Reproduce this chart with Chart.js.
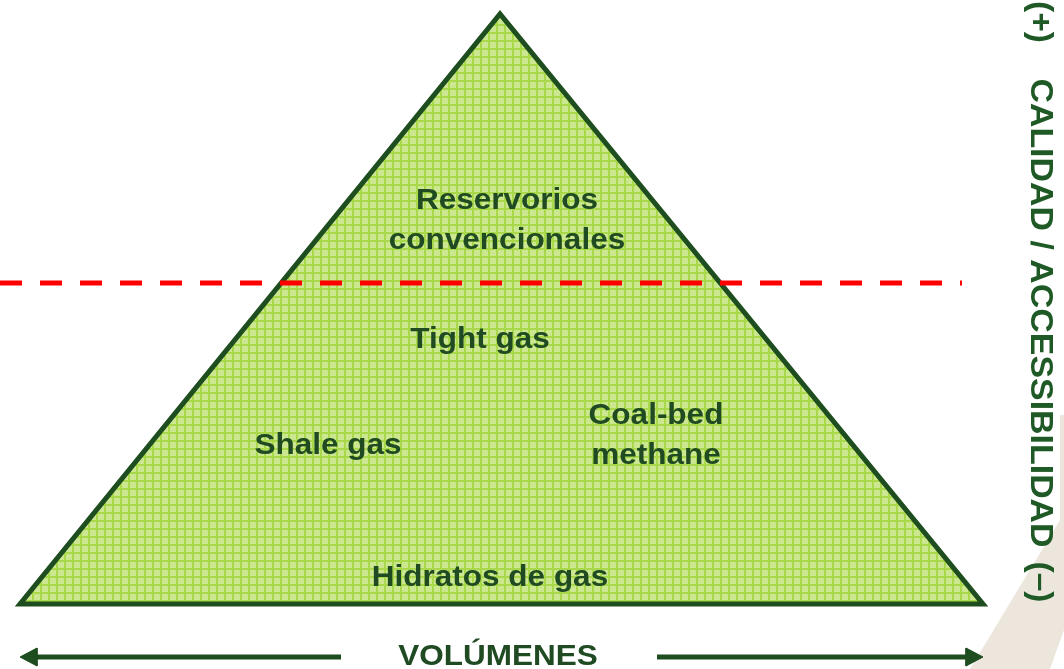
<!DOCTYPE html>
<html>
<head>
<meta charset="utf-8">
<script src="https://cdn.jsdelivr.net/npm/chart.js@4.4.1/dist/chart.umd.min.js"></script>
<style>
  html, body { margin: 0; padding: 0; background: #ffffff; }
  canvas { display: block; }
</style>
</head>
<body>
<canvas id="c" width="1064" height="669"></canvas>
<script>
// pyramid outline (starts mid-base so every corner is a real join)
var pyramidX = [500, 983, 500, 20, 500];
var pyramidY = [604, 604, 14, 604, 604];

// red cut-off line
var cutX = [0, 962];
var cutY = [283, 283];

// beige band in the lower right corner
var bandX = [970, 1060, 1060, 1064, 1064, 1050, 970];
var bandY = [669, 520, 415, 415, 630, 669, 669];

// volume arrows
var arrowLeftX = [30, 341];
var arrowRightX = [657, 970];
var arrowY = [657, 657];
var headLeftX = [20, 37, 37, 20];
var headLeftY = [657, 648, 666, 657];
var headRightX = [983, 966, 966, 983];
var headRightY = [657, 648, 666, 657];

// labels inside the pyramid
var labelText = ['Reservorios', 'convencionales', 'Tight gas', 'Shale gas', 'Coal-bed', 'methane', 'Hidratos de gas'];
var labelX = [507, 507, 480, 328, 656, 656, 490];
var labelY = [201, 241, 340, 446, 416, 456, 578];

var axisTitle = 'VOLÚMENES';
var sideTitle = 'CALIDAD / ACCESSIBILIDAD';
var sideTop = '(+)';
var sideBottom = '(\u2013)';

function pts(xs, ys) {
    var out = [];
    for (var i = 0; i < xs.length; i++) out.push({x: xs[i], y: ys[i]});
    return out;
}

function gridPattern() {
    var p = document.createElement('canvas');
    p.width = 8; p.height = 8;
    var g = p.getContext('2d');
    g.fillStyle = '#cbe78f';
    g.fillRect(0, 0, 8, 8);
    g.fillStyle = '#a9d84b';
    g.fillRect(0, 0, 8, 2);
    g.fillRect(0, 0, 2, 8);
    return document.getElementById('c').getContext('2d').createPattern(p, 'repeat');
}

var darkGreen = '#1e4d1f';
var textGreen = '#1f4a22';

// text is a bit wider than plain Arial bold in the picture
function stretchedText(ctx, txt, x, y, stretch) {
    ctx.save();
    ctx.translate(x, y);
    ctx.scale(stretch, 1);
    ctx.fillText(txt, 0, 0);
    ctx.restore();
}

var textPlugin = {
    id: 'texts',
    afterDatasetsDraw: function(chart) {
        var ctx = chart.ctx;
        var sx = chart.scales.x, sy = chart.scales.y;
        ctx.save();
        ctx.fillStyle = textGreen;
        ctx.textAlign = 'center';
        ctx.textBaseline = 'middle';
        ctx.font = 'bold 30px "Liberation Sans", Arial, sans-serif';
        for (var i = 0; i < labelText.length; i++) {
            stretchedText(ctx, labelText[i], sx.getPixelForValue(labelX[i]), sy.getPixelForValue(labelY[i]), 1.05);
        }
        stretchedText(ctx, axisTitle, sx.getPixelForValue(498), sy.getPixelForValue(657), 1.05);

        // vertical title on the right
        ctx.fillStyle = '#1f5a26';
        ctx.translate(sx.getPixelForValue(1040), 0);
        ctx.rotate(Math.PI / 2);
        ctx.font = 'bold 32px "Liberation Sans", Arial, sans-serif';
        stretchedText(ctx, sideTitle, sy.getPixelForValue(313), 0, 1.06);
        stretchedText(ctx, sideTop, sy.getPixelForValue(22), 0, 1.05);
        stretchedText(ctx, sideBottom, sy.getPixelForValue(582), 0, 1.05);
        ctx.restore();
    }
};

var lineDefaults = {showLine: true, pointRadius: 0, tension: 0, borderJoinStyle: 'miter', borderCapStyle: 'butt'};

function ds(extra) {
    var o = {};
    for (var k in lineDefaults) o[k] = lineDefaults[k];
    for (var k2 in extra) o[k2] = extra[k2];
    return o;
}

var myChart = new Chart(document.getElementById('c'), {
    type: 'scatter',
    data: {
        datasets: [
            ds({data: pts(cutX, cutY), borderColor: '#ff0000', borderWidth: 5, borderDash: [22, 18], fill: false}),
            ds({data: pts(headLeftX, headLeftY), borderColor: darkGreen, borderWidth: 1, backgroundColor: darkGreen, fill: 'shape'}),
            ds({data: pts(headRightX, headRightY), borderColor: darkGreen, borderWidth: 1, backgroundColor: darkGreen, fill: 'shape'}),
            ds({data: pts(arrowLeftX, arrowY), borderColor: darkGreen, borderWidth: 5, fill: false}),
            ds({data: pts(arrowRightX, arrowY), borderColor: darkGreen, borderWidth: 5, fill: false}),
            ds({data: pts(pyramidX, pyramidY), borderColor: darkGreen, borderWidth: 5, backgroundColor: gridPattern(), fill: 'shape'}),
            ds({data: pts(bandX, bandY), borderColor: '#ede6dd', borderWidth: 0, backgroundColor: '#ede6dd', fill: 'shape'})
        ]
    },
    options: {
        responsive: false,
        animation: false,
        layout: {padding: 0},
        plugins: {legend: {display: false}, tooltip: {enabled: false}},
        scales: {
            x: {type: 'linear', min: 0, max: 1064, display: false},
            y: {type: 'linear', min: 0, max: 669, reverse: true, display: false}
        }
    },
    plugins: [textPlugin]
});
</script>
</body>
</html>
